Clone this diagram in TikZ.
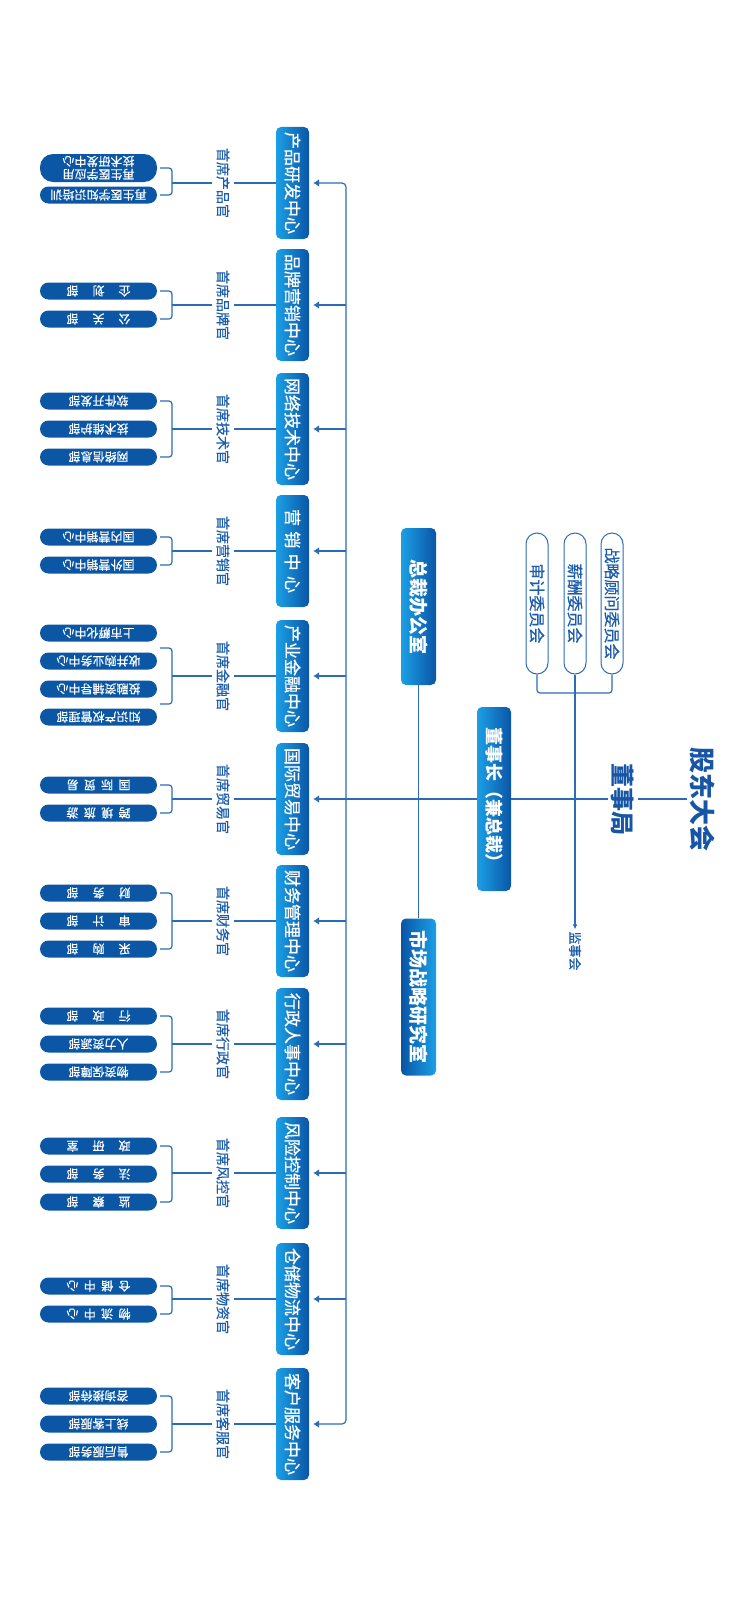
\documentclass[tikz,border=0pt]{standalone}
\usepackage{fontspec}
\setmainfont{Noto Sans CJK SC}
\newfontfamily\medfont[FakeBold=0.6]{Noto Sans CJK SC}
\usetikzlibrary{arrows.meta}

\definecolor{lineblue}{HTML}{2B6CB4}
\definecolor{boxlight}{HTML}{1BA0E6}
\definecolor{boxdark}{HTML}{0A55A6}
\definecolor{pillblue}{HTML}{0B57A5}
\definecolor{textblue}{HTML}{1B5CAB}
\definecolor{headblue}{HTML}{1756A5}

\newcommand\spreadtext[2][64pt]{\makebox[#1][s]{#2}}

\begin{document}
\begin{tikzpicture}[x=1pt, y=-1pt,
    link/.style={draw=lineblue, line width=1.2pt},
    feed/.style={link, -{Latex[length=6pt,width=8pt]}, shorten >=4pt},
    centerbox/.style={rotate=-90, rounded corners=5pt, left color=boxlight, right color=boxdark,
        text=white, minimum width=112pt, minimum height=33pt, inner sep=0pt,
        font=\fontsize{17}{17}\medfont},
    officebox/.style={rotate=-90, rounded corners=5pt, left color=boxdark, right color=boxlight,
        text=white, minimum width=157pt, minimum height=35pt, inner sep=0pt,
        font=\fontsize{19}{19}\selectfont\bfseries},
    chief/.style={rotate=-90, text=textblue, inner sep=4pt, font=\fontsize{14}{14}\medfont},
    dept/.style={rotate=180, fill=pillblue, text=white, rounded corners=8.5pt,
        minimum width=117pt, minimum height=17pt, inner sep=0pt,
        font=\fontsize{12}{13}\medfont},
    committee/.style={rotate=-90, draw=lineblue, line width=1pt, fill=white, text=textblue,
        rounded corners=11pt, minimum width=141pt, minimum height=22pt, inner sep=0pt,
        font=\fontsize{16}{16}\medfont},
    head/.style={rotate=-90, text=headblue, inner sep=3pt, font=\bfseries}]

    % canvas
    \useasboundingbox (0,0) rectangle (749,1600);

    % columns
    \coordinate (spine) at (346,0);
    \coordinate (brk) at (172,0);

    % top of the tree
    \node[head, font=\fontsize{26}{26}\selectfont\bfseries] (gddh) at (703,799) {股东大会};
    \node[head, font=\fontsize{24}{24}\selectfont\bfseries] (dsj) at (623,799) {董事局};
    \node[rotate=-90, rounded corners=5pt, left color=boxlight, right color=boxdark, text=white,
        minimum width=184pt, minimum height=34pt, inner sep=0pt,
        font=\fontsize{18}{18}\selectfont\bfseries] (dsz) at (494,799) {董事长（兼总裁）};

    % committees
    \node[committee] (sjw) at (537,603.5) {审计委员会};
    \node[committee] (xcw) at (575,603.5) {薪酬委员会};
    \node[committee] (zlw) at (612,603.5) {战略顾问委员会};
    \node[rotate=-90, text=textblue, inner sep=2pt, font=\fontsize{13}{13}\medfont] (jsh) at (575,951) {监事会};

    \draw[link, rounded corners=3pt] (sjw) -- (537,693) -- (612,693) -- (zlw);
    \draw[link, -{Latex[length=5pt,width=5pt]}] (xcw) -- (jsh);

    % offices
    \node[officebox, left color=boxlight, right color=boxdark] (zcb) at (418.5,606.5) {总裁办公室};
    \node[officebox] (sczl) at (418.5,997) {市场战略研究室};
    \draw[link] (zcb) -- (sczl);

    % main line
    \draw[link] (spine |- dsz) -- (dsz) -- (dsj) -- (gddh);

    % centers
    \node[centerbox] (cp) at (292.5,183) {产品研发中心};
    \node[centerbox] (pp) at (292.5,305) {品牌营销中心};
    \node[centerbox] (wl) at (292.5,429) {网络技术中心};
    \node[centerbox] (yx) at (292.5,551) {\spreadtext[84pt]{营\hfill 销\hfill 中\hfill 心}};
    \node[centerbox] (cr) at (292.5,676) {产业金融中心};
    \node[centerbox] (gj) at (292.5,799) {国际贸易中心};
    \node[centerbox] (cw) at (292.5,921) {财务管理中心};
    \node[centerbox] (xz) at (292.5,1044) {行政人事中心};
    \node[centerbox] (fk) at (292.5,1173) {风险控制中心};
    \node[centerbox] (cc) at (292.5,1299) {仓储物流中心};
    \node[centerbox] (kf) at (292.5,1424) {客户服务中心};

    \draw[link, rounded corners=4pt, {Latex[length=6pt,width=8pt]}-{Latex[length=6pt,width=8pt]},
        shorten <=4pt, shorten >=4pt] (cp) -- (spine |- cp) -- (spine |- kf) -- (kf);
    \foreach \b in {pp,wl,yx,cr,gj,cw,xz,fk,cc}
        \draw[feed] (spine |- \b) -- (\b);

    % chief officers
    \node[chief] (cpg) at (223,183) {首席产品官};
    \node[chief] (ppg) at (223,305) {首席品牌官};
    \node[chief] (wlg) at (223,429) {首席技术官};
    \node[chief] (yxg) at (223,551) {首席营销官};
    \node[chief] (crg) at (223,676) {首席金融官};
    \node[chief] (gjg) at (223,799) {首席贸易官};
    \node[chief] (cwg) at (223,921) {首席财务官};
    \node[chief] (xzg) at (223,1044) {首席行政官};
    \node[chief] (fkg) at (223,1173) {首席风控官};
    \node[chief] (ccg) at (223,1299) {首席物资官};
    \node[chief] (kfg) at (223,1424) {首席客服官};

    \foreach \b in {cp,pp,wl,yx,cr,gj,cw,xz,fk,cc,kf}
        \draw[link] (brk |- \b) -- (\b g) -- (\b);

    % departments: product
    \node[dept, minimum height=28pt, rounded corners=13pt, align=center] (cp1) at (98.5,168) {再生医学应用\\技术研发中心};
    \node[dept] (cp2) at (98.5,195) {再生医学知识培训};
    \draw[link, rounded corners=3pt] ([xshift=3pt]cp1.west) -| (brk |- cp) |- ([xshift=3pt]cp2.west);

    % brand
    \node[dept] (pp1) at (98.5,291) {\spreadtext{企\hfill 划\hfill 部}};
    \node[dept] (pp2) at (98.5,319) {\spreadtext{公\hfill 关\hfill 部}};
    \draw[link, rounded corners=3pt] ([xshift=3pt]pp1.west) -| (brk |- pp) |- ([xshift=3pt]pp2.west);

    % network
    \node[dept] (wl1) at (98.5,401) {软件开发部};
    \node[dept] (wl2) at (98.5,429) {技术维护部};
    \node[dept] (wl3) at (98.5,457) {网络信息部};
    \draw[link, rounded corners=3pt] ([xshift=3pt]wl1.west) -| (brk |- wl) |- ([xshift=3pt]wl3.west);

    % marketing
    \node[dept] (yx1) at (98.5,537) {国内营销中心};
    \node[dept] (yx2) at (98.5,565) {国外营销中心};
    \draw[link, rounded corners=3pt] ([xshift=3pt]yx1.west) -| (brk |- yx) |- ([xshift=3pt]yx2.west);

    % finance
    \node[dept] (cr1) at (98.5,633) {上市孵化中心};
    \node[dept] (cr2) at (98.5,661) {收并购业务中心};
    \node[dept] (cr3) at (98.5,689) {投融资辅导中心};
    \node[dept] (cr4) at (98.5,717) {知识产权管理部};
    \draw[link, rounded corners=3pt] (160,648) -- (172,648) -- (172,704) -- (160,704);

    % trade
    \node[dept] (gj1) at (98.5,785) {\spreadtext{国\hfill 际\hfill 贸\hfill 易}};
    \node[dept] (gj2) at (98.5,813) {\spreadtext{跨\hfill 境\hfill 旅\hfill 游}};
    \draw[link, rounded corners=3pt] ([xshift=3pt]gj1.west) -| (brk |- gj) |- ([xshift=3pt]gj2.west);

    % accounts
    \node[dept] (cw1) at (98.5,893) {\spreadtext{财\hfill 务\hfill 部}};
    \node[dept] (cw2) at (98.5,921) {\spreadtext{审\hfill 计\hfill 部}};
    \node[dept] (cw3) at (98.5,949) {\spreadtext{采\hfill 购\hfill 部}};
    \draw[link, rounded corners=3pt] ([xshift=3pt]cw1.west) -| (brk |- cw) |- ([xshift=3pt]cw3.west);

    % administration
    \node[dept] (xz1) at (98.5,1016) {\spreadtext{行\hfill 政\hfill 部}};
    \node[dept] (xz2) at (98.5,1044) {人力资源部};
    \node[dept] (xz3) at (98.5,1072) {物资保障部};
    \draw[link, rounded corners=3pt] ([xshift=3pt]xz1.west) -| (brk |- xz) |- ([xshift=3pt]xz3.west);

    % risk
    \node[dept] (fk1) at (98.5,1146) {\spreadtext{政\hfill 研\hfill 室}};
    \node[dept] (fk2) at (98.5,1174) {\spreadtext{法\hfill 务\hfill 部}};
    \node[dept] (fk3) at (98.5,1202) {\spreadtext{监\hfill 察\hfill 部}};
    \draw[link, rounded corners=3pt] ([xshift=3pt]fk1.west) -| (brk |- fk) |- ([xshift=3pt]fk3.west);

    % logistics
    \node[dept] (cc1) at (98.5,1286) {\spreadtext{仓\hfill 储\hfill 中\hfill 心}};
    \node[dept] (cc2) at (98.5,1314) {\spreadtext{物\hfill 流\hfill 中\hfill 心}};
    \draw[link, rounded corners=3pt] ([xshift=3pt]cc1.west) -| (brk |- cc) |- ([xshift=3pt]cc2.west);

    % customers
    \node[dept] (kf1) at (98.5,1396) {咨询接待部};
    \node[dept] (kf2) at (98.5,1424) {线上客服部};
    \node[dept] (kf3) at (98.5,1452) {售后服务部};
    \draw[link, rounded corners=3pt] ([xshift=3pt]kf1.west) -| (brk |- kf) |- ([xshift=3pt]kf3.west);

\end{tikzpicture}
\end{document}
